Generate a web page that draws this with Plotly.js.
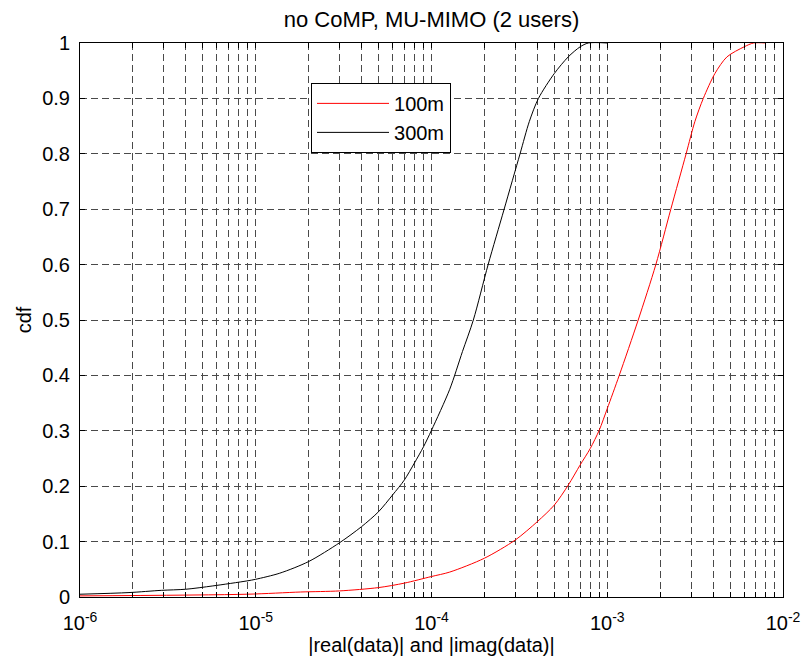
<!DOCTYPE html>
<html>
<head>
<meta charset="utf-8">
<script src="https://cdn.plot.ly/plotly-3.0.1.min.js"></script>
<style>
  html, body { margin: 0; padding: 0; background: #ffffff; }
  #chart { width: 803px; height: 662px; }
</style>
</head>
<body>
<div id="chart"></div>
<script>
// Empirical CDF of |real(data)| and |imag(data)|, 300 m cell distance
const x300 = [1e-6, 1.9e-6, 2.9e-6, 4e-6, 5.7e-6, 8.9e-6, 1e-5, 1.37e-5, 2e-5, 3e-5,
              4e-5, 5e-5, 6e-5, 7e-5, 8e-5, 9e-5, 1e-4, 1.27e-4, 1.5e-4, 1.73e-4,
              2.1e-4, 2.59e-4, 3.19e-4, 3.6e-4, 4.06e-4, 5e-4, 6e-4, 7e-4, 7.8e-4, 1e-3];
const cdf300 = [0.005, 0.008, 0.012, 0.014, 0.020, 0.029, 0.032, 0.043, 0.064, 0.098,
                0.127, 0.154, 0.184, 0.211, 0.242, 0.271, 0.301, 0.375, 0.443, 0.500,
                0.600, 0.700, 0.800, 0.858, 0.900, 0.945, 0.975, 0.993, 1.000, 1.000];

// Empirical CDF, 100 m cell distance
const x100 = [1e-6, 8.9e-6, 1.8e-5, 3e-5, 5e-5, 7e-5, 1e-4, 1.27e-4, 2e-4, 3e-4,
              4e-4, 5e-4, 6e-4, 7e-4, 8e-4, 9e-4, 1e-3, 1.17e-3, 1.5e-3, 1.89e-3,
              2.3e-3, 2.81e-3, 3.15e-3, 3.52e-3, 4.1e-3, 4.8e-3, 6e-3, 6.8e-3, 8e-3];
const cdf100 = [0.002, 0.005, 0.009, 0.011, 0.017, 0.025, 0.037, 0.045, 0.070, 0.103,
                0.136, 0.166, 0.202, 0.238, 0.268, 0.301, 0.340, 0.400, 0.500, 0.600,
                0.700, 0.800, 0.858, 0.900, 0.945, 0.975, 0.993, 1.000, 1.000];

// Log-axis grid positions (1..9 per decade) and their labels
const decades = [-6, -5, -4, -3, -2];
const xTickVals = [];
const xTickText = [];
decades.forEach(function (d, i) {
  const last = i === decades.length - 1;
  for (let m = 1; m <= (last ? 1 : 9); m++) {
    xTickVals.push(m * Math.pow(10, d));
    xTickText.push(m === 1 ? '10<sup>' + d + '</sup>' : '');
  }
});
const yTickVals = [0, 0.1, 0.2, 0.3, 0.4, 0.5, 0.6, 0.7, 0.8, 0.9, 1];
const yTickText = ['0', '0.1', '0.2', '0.3', '0.4', '0.5', '0.6', '0.7', '0.8', '0.9', '1'];

const FONT = 'Liberation Sans, Arial, sans-serif';

const traces = [
  { x: x100, y: cdf100, name: '100m', type: 'scatter', mode: 'lines',
    line: { color: '#ff0000', width: 1, shape: 'spline', smoothing: 0.8 } },
  { x: x300, y: cdf300, name: '300m', type: 'scatter', mode: 'lines',
    line: { color: '#000000', width: 1, shape: 'spline', smoothing: 0.8 } }
];

const gridStyle = { showgrid: true, gridcolor: '#4a4a4a', gridwidth: 1, griddash: '7px,4px' };

const layout = {
  width: 803,
  height: 662,
  margin: { l: 80, r: 20, t: 43, b: 65, pad: 0 },
  paper_bgcolor: '#ffffff',
  plot_bgcolor: '#ffffff',
  font: { family: FONT, size: 18, color: '#000000' },
  title: { text: 'no CoMP, MU-MIMO (2 users)', font: { family: FONT, size: 22, color: '#000000' },
           x: 0.5, xref: 'paper', xanchor: 'center', y: 1 - 19 / 662, yref: 'container', yanchor: 'middle' },
  showlegend: true,
  legend: {
    x: 0.3286, y: 0.928, xanchor: 'left', yanchor: 'top',
    bgcolor: '#ffffff', bordercolor: '#000000', borderwidth: 1,
    font: { family: FONT, size: 20, color: '#000000' },
    itemwidth: 72
  },
  xaxis: Object.assign({
    type: 'log',
    range: [-6, -2],
    tickmode: 'array', tickvals: xTickVals, ticktext: xTickText,
    ticks: 'inside', ticklen: 5, tickcolor: '#000000',
    showline: true, linecolor: '#000000', linewidth: 1, mirror: 'ticks',
    zeroline: false,
    ticklabelstandoff: 8,
    tickfont: { family: FONT, size: 20, color: '#000000' },
    title: { text: '|real(data)| and |imag(data)|', font: { family: FONT, size: 20, color: '#000000' }, standoff: 2 }
  }, gridStyle),
  yaxis: Object.assign({
    range: [0, 1],
    tickmode: 'array', tickvals: yTickVals, ticktext: yTickText,
    ticks: 'inside', ticklen: 5, tickcolor: '#000000',
    showline: true, linecolor: '#000000', linewidth: 1, mirror: 'ticks',
    zeroline: false,
    ticklabelstandoff: 5,
    tickfont: { family: FONT, size: 20, color: '#000000' },
    title: { text: 'cdf', font: { family: FONT, size: 20, color: '#000000' }, standoff: 5 }
  }, gridStyle)
};

Plotly.newPlot('chart', traces, layout, { staticPlot: true, displayModeBar: false });
</script>
</body>
</html>
